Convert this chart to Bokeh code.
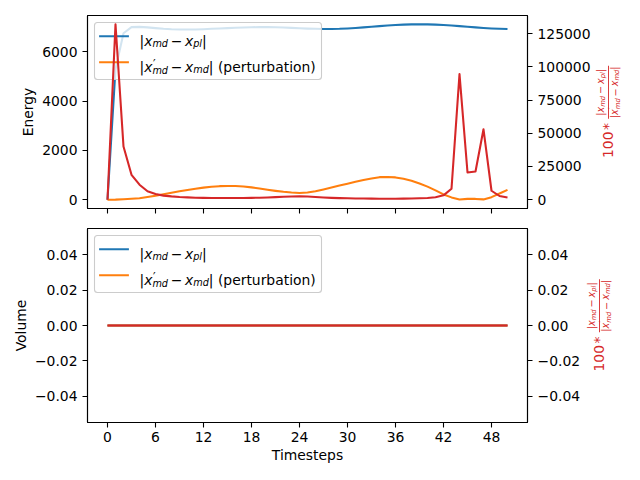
import math
from bokeh.plotting import figure
from bokeh.models import (Range1d, LinearAxis, FixedTicker, CustomJSTickFormatter,
                          Label, BoxAnnotation)
from bokeh.layouts import column, row
from bokeh.embed import file_html
from bokeh.resources import INLINE

# ---------------- data ----------------
timesteps = list(range(51))

energy_md_pl = [0, 5300, 6750, 7000, 7010, 6990, 6960, 6930, 6910, 6900,
                6900, 6905, 6915, 6930, 6945, 6960, 6975, 6985, 6995, 7000,
                7000, 6995, 6985, 6970, 6955, 6940, 6930, 6925, 6925, 6930,
                6945, 6965, 6990, 7015, 7040, 7065, 7085, 7100, 7110, 7115,
                7110, 7100, 7085, 7065, 7040, 7015, 6990, 6965, 6945, 6930,
                6920]
energy_perturb = [0, 4, 17, 37, 62, 110, 165, 222, 280, 340,
                  395, 445, 490, 525, 550, 560, 555, 535, 500, 455,
                  405, 360, 320, 290, 275, 290, 340, 415, 495, 575,
                  650, 730, 800, 860, 915, 920, 905, 850, 770, 660,
                  530, 380, 215, 95, 7.5, 34, 33, 13, 105, 250,
                  400]
energy_ratio = [0, 132000, 40000, 18750, 11300, 6400, 4250, 3100, 2500, 2050,
                1750, 1550, 1420, 1320, 1260, 1240, 1260, 1300, 1400, 1540,
                1730, 1940, 2180, 2400, 2530, 2390, 2040, 1670, 1400, 1200,
                1060, 950, 870, 815, 770, 765, 785, 835, 920, 1080,
                1340, 1870, 3300, 8250, 94500, 20500, 21250, 53000, 6750, 2800,
                1750]

volume_md_pl = [0.0, 0.0, 0.0, 0.0, 0.0, 0.0, 0.0, 0.0, 0.0, 0.0,
                0.0, 0.0, 0.0, 0.0, 0.0, 0.0, 0.0, 0.0, 0.0, 0.0,
                0.0, 0.0, 0.0, 0.0, 0.0, 0.0, 0.0, 0.0, 0.0, 0.0,
                0.0, 0.0, 0.0, 0.0, 0.0, 0.0, 0.0, 0.0, 0.0, 0.0,
                0.0, 0.0, 0.0, 0.0, 0.0, 0.0, 0.0, 0.0, 0.0, 0.0,
                0.0]
volume_perturb = [0.0, 0.0, 0.0, 0.0, 0.0, 0.0, 0.0, 0.0, 0.0, 0.0,
                  0.0, 0.0, 0.0, 0.0, 0.0, 0.0, 0.0, 0.0, 0.0, 0.0,
                  0.0, 0.0, 0.0, 0.0, 0.0, 0.0, 0.0, 0.0, 0.0, 0.0,
                  0.0, 0.0, 0.0, 0.0, 0.0, 0.0, 0.0, 0.0, 0.0, 0.0,
                  0.0, 0.0, 0.0, 0.0, 0.0, 0.0, 0.0, 0.0, 0.0, 0.0,
                  0.0]
volume_ratio = [0.0, 0.0, 0.0, 0.0, 0.0, 0.0, 0.0, 0.0, 0.0, 0.0,
                0.0, 0.0, 0.0, 0.0, 0.0, 0.0, 0.0, 0.0, 0.0, 0.0,
                0.0, 0.0, 0.0, 0.0, 0.0, 0.0, 0.0, 0.0, 0.0, 0.0,
                0.0, 0.0, 0.0, 0.0, 0.0, 0.0, 0.0, 0.0, 0.0, 0.0,
                0.0, 0.0, 0.0, 0.0, 0.0, 0.0, 0.0, 0.0, 0.0, 0.0,
                0.0]

x_ticks = [0, 6, 12, 18, 24, 30, 36, 42, 48]
energy_ticks = [0, 2000, 4000, 6000]
ratio_ticks = [0, 25000, 50000, 75000, 100000, 125000]
volume_ticks = [-0.04, -0.02, 0.0, 0.02, 0.04]

# ---------------- style ----------------
BLUE = "#1f77b4"
ORANGE = "#ff7f0e"
RED = "#d62728"
FONT = "DejaVu Sans"
FS_PX, SFS_PX, SSFS_PX = 13.9, 9.7, 6.8
FS, SFS, SSFS = "13.9px", "9.7px", "6.8px"
LW = 2.08
FRAME_L = 87       # page x of the frames' left edge
FRAME_W = 440
TOP_FH, BOT_FH = 193, 194          # frame heights
TOP_FB, BOT_FB = 208, 422          # page y of the frames' bottom edges


def x_limits():
    lo, hi = min(timesteps), max(timesteps)
    m = 0.05 * (hi - lo)
    return lo - m, hi + m


def y_limits(*series):
    lo = min(min(s) for s in series)
    hi = max(max(s) for s in series)
    if hi == lo:
        return lo - 0.055, hi + 0.055
    m = 0.05 * (hi - lo)
    return lo - m, hi + m


def style_axis(ax, ticks, fmt, label_size=FS, standoff=5):
    ax.ticker = FixedTicker(ticks=ticks, minor_ticks=[])
    ax.formatter = fmt
    ax.axis_line_color = "black"
    ax.axis_line_width = 1.1
    ax.major_tick_in = 0
    ax.major_tick_out = 5
    ax.major_tick_line_width = 1.1
    ax.major_tick_line_color = "black"
    ax.minor_tick_in = 0
    ax.minor_tick_out = 0
    ax.major_label_text_font = FONT
    ax.major_label_text_font_size = label_size
    ax.major_label_text_color = "black"
    ax.major_label_standoff = standoff
    ax.axis_label_text_font = FONT
    ax.axis_label_text_font_size = FS
    ax.axis_label_text_font_style = "normal"
    ax.axis_label_text_color = "black"


def add_text(p, fl, fb, px, py, text, size, style="normal", color="black", angle=0.0,
             align="left", baseline="alphabetic"):
    p.add_layout(Label(x=px - fl, y=fb - py, x_units="screen", y_units="screen",
                       text=text, text_font=FONT, text_font_size=size,
                       text_font_style=style, text_color=color,
                       text_align=align, text_baseline=baseline, angle=angle))


def add_box(p, fl, fb, x0, x1, y0, y1, fill, alpha=1.0, line=None, lw=1.0,
            radius=0, level="annotation"):
    p.add_layout(BoxAnnotation(left=x0 - fl, right=x1 - fl, top=fb - y0, bottom=fb - y1,
                               left_units="screen", right_units="screen",
                               top_units="screen", bottom_units="screen",
                               fill_color=fill, fill_alpha=alpha,
                               line_color=line, line_alpha=1.0, line_width=lw,
                               border_radius=radius, level=level))


def add_legend(p, fl, fb, dy):
    add_box(p, fl, fb, 94, 321, 22 + dy, 79 + dy, "white", alpha=0.8,
            line="#cccccc", lw=1.1, radius=3, level="underlay")
    add_box(p, fl, fb, 98.6, 128.4, 35.7 - 1.04 + dy, 35.7 + 1.04 + dy, BLUE, level="underlay")
    add_box(p, fl, fb, 98.6, 128.4, 61.7 - 1.04 + dy, 61.7 + 1.04 + dy, ORANGE, level="underlay")
    b1 = 40.8 + dy
    pieces1 = [("|", 139.0, 0, FS, "normal"), ("x", 143.7, 0, FS, "italic"),
               ("md", 151.9, 2.0, SFS, "italic"), ("\u2212", 170.2, 0, FS, "normal"),
               ("x", 184.5, 0, FS, "italic"), ("pl", 192.7, 2.0, SFS, "italic"),
               ("|", 201.6, 0, FS, "normal")]
    for t, x, sh, sz, st in pieces1:
        add_text(p, fl, fb, x, b1 + sh, t, sz, st)
    b2 = 66.8 + dy
    pieces2 = [("|", 139.0, 0, FS, "normal"), ("x", 143.7, 0, FS, "italic"),
               ("\u2032", 152.4, -3.5, "11.5px", "normal"),
               ("md", 151.9, 2.8, SFS, "italic"), ("\u2212", 170.2, 0, FS, "normal"),
               ("x", 184.5, 0, FS, "italic"), ("md", 192.7, 2.0, SFS, "italic"),
               ("|", 208.3, 0, FS, "normal"), ("(perturbation)", 217.4, 0, FS, "normal")]
    for t, x, sh, sz, st in pieces2:
        add_text(p, fl, fb, x, b2 + sh, t, sz, st)


MID = 0.346   # middle of the DejaVu Sans em box above the baseline


def rot_piece(p, fl, fb, xb, y0, adv, text, size_px, style="normal", color=RED):
    """Text rotated 90 deg, starting at page y0 and running upwards, baseline at page x xb."""
    cx = xb - MID * size_px
    cy = y0 - adv / 2.0
    add_text(p, fl, fb, cx, cy, text, "%.1fpx" % size_px, style, color,
             angle=math.pi / 2, align="center", baseline="middle")


def add_ratio_label(p, fl, fb, X0, dy):
    rot_piece(p, fl, fb, X0, 157.5 + dy, 26.5, "100", FS_PX)
    rot_piece(p, fl, fb, X0, 129.6 + dy, 6.95, "*", FS_PX)
    add_box(p, fl, fb, X0 - 5.1, X0 - 4.2, 65.3 + dy, 118.3 + dy, RED)
    XN = X0 - 9.7
    YN = 115.35 + dy
    num = [("|", 0, 3.27, 0, SFS_PX, "normal"), ("x", 3.27, 5.74, 0, SFS_PX, "italic"),
           ("md", 9.02, 10.94, 1.5, SSFS_PX, "italic"),
           ("\u2212", 21.85, 8.13, 0, SFS_PX, "normal"),
           ("x", 31.88, 5.74, 0, SFS_PX, "italic"),
           ("pl", 37.63, 6.21, 1.5, SSFS_PX, "italic"),
           ("|", 43.84, 3.27, 0, SFS_PX, "normal")]
    for t, o, a, sh, sz, st in num:
        rot_piece(p, fl, fb, XN + sh, YN - o, a, t, sz, st)
    XD = X0 + 4.8
    YD = 117.75 + dy
    den = [("|", 0, 3.27, 0, SFS_PX, "normal"), ("x", 3.27, 5.74, 0, SFS_PX, "italic"),
           ("\u2032", 9.2, 2.0, -3.0, 8.0, "normal"),
           ("md", 9.02, 10.94, 2.0, SSFS_PX, "italic"),
           ("\u2212", 21.85, 8.13, 0, SFS_PX, "normal"),
           ("x", 31.88, 5.74, 0, SFS_PX, "italic"),
           ("md", 37.63, 10.94, 1.5, SSFS_PX, "italic"),
           ("|", 48.57, 3.27, 0, SFS_PX, "normal")]
    for t, o, a, sh, sz, st in den:
        rot_piece(p, fl, fb, XD + sh, YD - o, a, t, sz, st)


int_fmt = CustomJSTickFormatter(code="return tick.toFixed(0);")
vol_fmt = CustomJSTickFormatter(
    code="var s = Math.abs(tick).toFixed(2); return (tick < -1e-9 ? '\\u2212' : '') + s;")
blank_fmt = CustomJSTickFormatter(code="return '';")


def make_panel(frame_h, top_b, bot_b, right_b, left_series, right_series, left_ticks,
               right_ticks, fmt, ylabel, bottom_labels):
    p = figure(frame_width=FRAME_W, frame_height=frame_h, title=None,
               x_range=Range1d(*x_limits()), y_range=Range1d(*y_limits(*left_series)),
               output_backend="svg", toolbar_location=None,
               min_border_left=FRAME_L, min_border_right=right_b,
               min_border_top=top_b, min_border_bottom=bot_b,
               background_fill_color="white", border_fill_color="white")
    p.outline_line_color = "black"
    p.outline_line_width = 1.1
    p.outline_line_alpha = 1.0
    p.xgrid.visible = False
    p.ygrid.visible = False
    p.extra_y_ranges = {"r": Range1d(*y_limits(right_series))}
    raxis = LinearAxis(y_range_name="r")
    p.add_layout(raxis, "right")
    xax = p.below[0]
    lax = p.left[0]
    if bottom_labels:
        style_axis(xax, x_ticks, int_fmt)
        xax.axis_label = "Timesteps"
        xax.axis_label_standoff = 2
        xax.major_label_standoff = 4
    else:
        style_axis(xax, x_ticks, blank_fmt, label_size="1px", standoff=0)
    style_axis(lax, left_ticks, fmt)
    lax.axis_label = ylabel
    lax.axis_label_standoff = 3
    style_axis(raxis, right_ticks, fmt)
    p.line(timesteps, left_series[0], line_color=BLUE, line_width=LW,
           line_join="round", level="image")
    p.line(timesteps, left_series[1], line_color=ORANGE, line_width=LW,
           line_join="round", level="image")
    p.line(timesteps, right_series, line_color=RED, line_width=LW,
           line_join="round", y_range_name="r")
    return p


def label_strip(width, frame_h):
    # its frame is aligned by the row with the neighbouring plot's frame
    s = figure(frame_width=width, frame_height=frame_h, title=None, output_backend="svg",
               toolbar_location=None, min_border=0, x_axis_type=None, y_axis_type=None,
               x_range=Range1d(0, 1), y_range=Range1d(0, 1),
               background_fill_color="white", border_fill_color="white")
    s.outline_line_color = None
    s.grid.visible = False
    return s


TOP_SPLIT = 594
BOT_SPLIT = 582

p1 = make_panel(TOP_FH, 15, 10, TOP_SPLIT - FRAME_L - FRAME_W,
                [energy_md_pl, energy_perturb], energy_ratio,
                energy_ticks, ratio_ticks, int_fmt, "Energy", False)
add_legend(p1, FRAME_L, TOP_FB, 0)
s1 = label_strip(640 - TOP_SPLIT, TOP_FH)
add_ratio_label(s1, TOP_SPLIT, TOP_FB, 612.7, 0)

p2 = make_panel(BOT_FH, 10, 52, BOT_SPLIT - FRAME_L - FRAME_W,
                [volume_md_pl, volume_perturb], volume_ratio,
                volume_ticks, volume_ticks, vol_fmt, "Volume", True)
add_legend(p2, FRAME_L, BOT_FB, 213)
s2 = label_strip(640 - BOT_SPLIT, BOT_FH)
add_ratio_label(s2, BOT_SPLIT, BOT_FB, 602.7, 213.5)

layout = column(row(p1, s1), row(p2, s2))
open("out.html", "w", encoding="utf-8").write(file_html(layout, INLINE))
